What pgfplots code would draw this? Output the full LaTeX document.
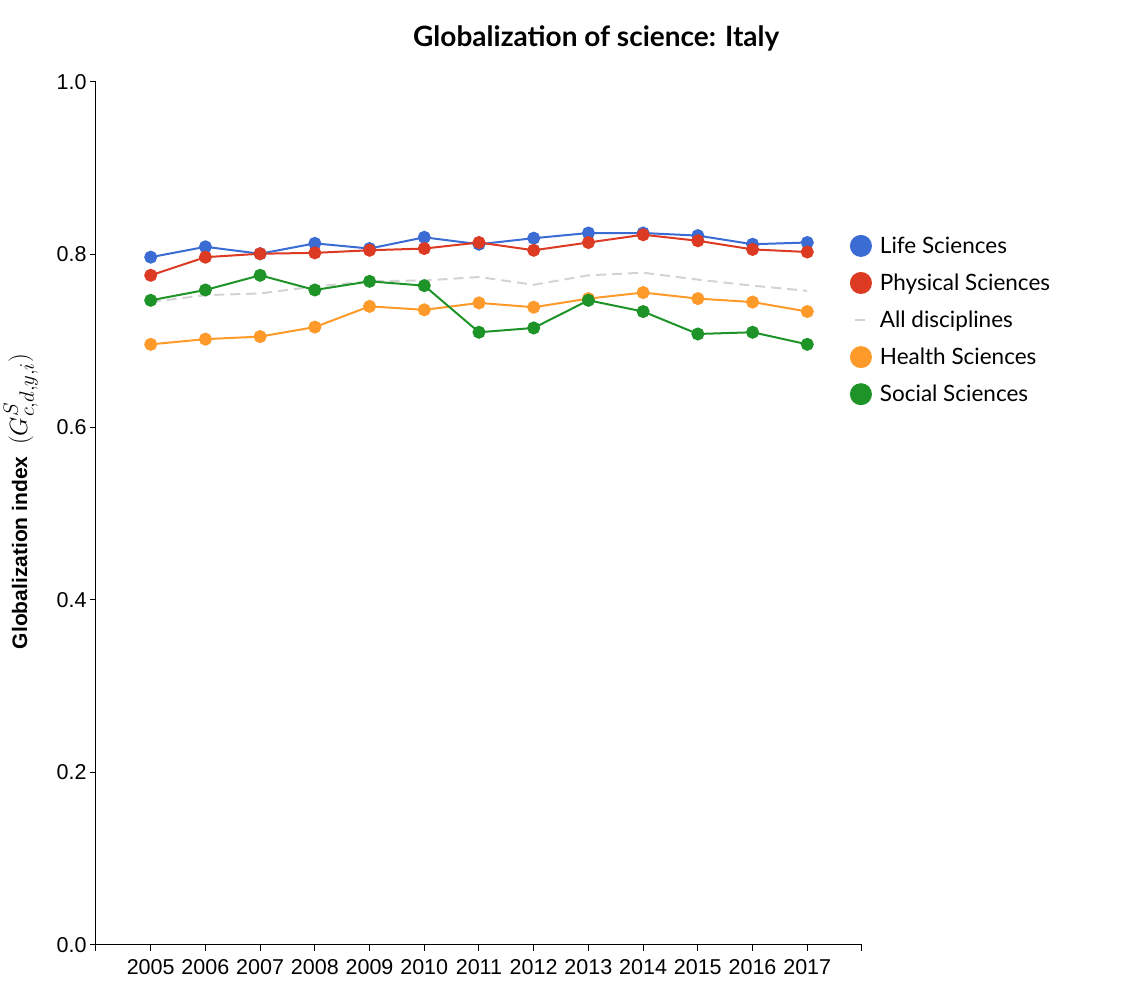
\documentclass[border=0pt]{standalone}
\usepackage{pgfplots}
\pgfplotsset{compat=1.18}
\usepackage{fontspec}
\setmainfont{Lato}
\newfontfamily\tickfont{Liberation Sans}

\definecolor{lifec}{RGB}{58,108,212}
\definecolor{physc}{RGB}{220,58,34}
\definecolor{allc}{RGB}{211,211,211}
\definecolor{healc}{RGB}{254,154,42}
\definecolor{socc}{RGB}{30,148,40}

\begin{document}
\begin{tikzpicture}[x=1pt,y=1pt]
\useasboundingbox (0,0) rectangle (1138,992);
\begin{axis}[
  at={(96pt,47pt)}, anchor=south west,
  scale only axis,
  width=766pt, height=863pt,
  xmin=2004, xmax=2018,
  ymin=0, ymax=1,
  axis lines=left,
  axis line style={-, line width=1pt},
  tick align=outside,
  major tick length=6pt,
  tick style={line width=1pt, black},
  xtick={2004,...,2018},
  xticklabels={{},2005,2006,2007,2008,2009,2010,2011,2012,2013,2014,2015,2016,2017,{}},
  ytick={0,0.2,0.4,0.6,0.8,1.0},
  yticklabel style={/pgf/number format/.cd, fixed, fixed zerofill, precision=1, assume math mode=true},
  ticklabel style={font=\tickfont\fontsize{21.5}{24}\selectfont},
  xticklabel style={yshift=-5pt},
  ylabel={\tickfont\bfseries\fontsize{21}{24}\selectfont Globalization index \ {\fontsize{28}{30}\selectfont$(G^S_{c,d,y,i})$}},
  ylabel style={at={(axis description cs:-0.098,0.514)}, anchor=center},
  title={Globalization of science: Italy},
  title style={at={(axis description cs:0.653,1.044)}, anchor=center, font=\bfseries\fontsize{28}{30}\selectfont},
  clip=false,
  legend style={draw=none, fill=none, at={(axis description cs:0.984,0.823)}, anchor=north west,
    font=\fontsize{22.5}{24}\selectfont, row sep=15pt, inner sep=0pt, column sep=6pt},
  legend cell align=left,
  every axis plot/.append style={line width=2pt},
]
\addplot[color=lifec, mark=*, mark size=5.5pt,
  legend image code/.code={\fill[lifec] (10pt,0) circle (10pt);}]
coordinates {(2005,0.797)(2006,0.809)(2007,0.801)(2008,0.813)(2009,0.807)(2010,0.820)(2011,0.812)(2012,0.819)(2013,0.825)(2014,0.825)(2015,0.822)(2016,0.812)(2017,0.814)};
\addlegendentry{Life Sciences}
\addplot[color=physc, mark=*, mark size=5.5pt,
  legend image code/.code={\fill[physc] (10pt,0) circle (10pt);}]
coordinates {(2005,0.776)(2006,0.797)(2007,0.801)(2008,0.802)(2009,0.805)(2010,0.807)(2011,0.814)(2012,0.805)(2013,0.814)(2014,0.823)(2015,0.816)(2016,0.806)(2017,0.803)};
\addlegendentry{Physical Sciences}
\addplot[color=allc, dash pattern=on 10pt off 6pt,
  legend image code/.code={\draw[allc, line width=2pt] (4pt,0) -- (16pt,0);}]
coordinates {(2005,0.745)(2006,0.753)(2007,0.755)(2008,0.763)(2009,0.769)(2010,0.770)(2011,0.774)(2012,0.765)(2013,0.776)(2014,0.779)(2015,0.771)(2016,0.764)(2017,0.758)};
\addlegendentry{All disciplines}
\addplot[color=healc, mark=*, mark size=5.5pt,
  legend image code/.code={\fill[healc] (10pt,0) circle (10pt);}]
coordinates {(2005,0.696)(2006,0.702)(2007,0.705)(2008,0.716)(2009,0.740)(2010,0.736)(2011,0.744)(2012,0.739)(2013,0.749)(2014,0.756)(2015,0.749)(2016,0.745)(2017,0.734)};
\addlegendentry{Health Sciences}
\addplot[color=socc, mark=*, mark size=5.5pt,
  legend image code/.code={\fill[socc] (10pt,0) circle (10pt);}]
coordinates {(2005,0.747)(2006,0.759)(2007,0.776)(2008,0.759)(2009,0.769)(2010,0.764)(2011,0.710)(2012,0.715)(2013,0.747)(2014,0.734)(2015,0.708)(2016,0.710)(2017,0.696)};
\addlegendentry{Social Sciences}
\end{axis}
\end{tikzpicture}
\end{document}
